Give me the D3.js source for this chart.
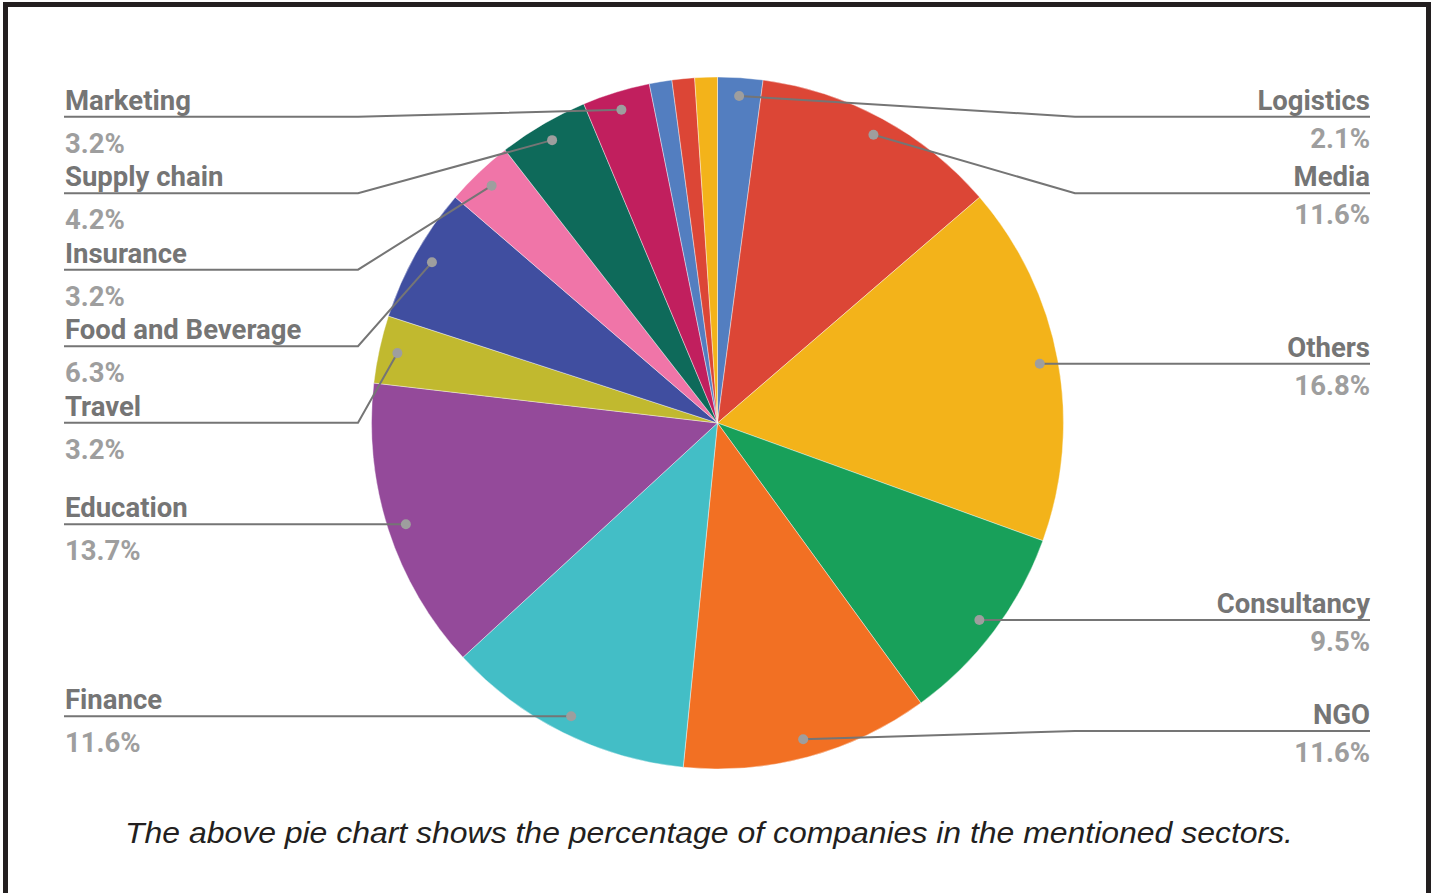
<!DOCTYPE html>
<html>
<head>
<meta charset="utf-8">
<script src="https://cdn.jsdelivr.net/npm/d3@7"></script>
<style>
  html, body { margin: 0; padding: 0; background: #fff; }
  svg { display: block; }
</style>
</head>
<body>
<svg id="chart" width="1431" height="893"></svg>
<script>
// sectors, clockwise from 12 o'clock (counts of companies, 95 in total)
var SECTORS = ["Logistics","Media","Others","Consultancy","NGO","Finance","Education","Travel",
               "Food and Beverage","Insurance","Supply chain","Marketing","","",""];
var COUNTS  = [2,11,16,9,11,11,13,3,6,3,4,3,1,1,1];
var COLORS  = ["#537ec0","#dc4636","#f3b31a","#18a05a","#f27023","#43bec6","#944a9a","#c1b92f",
               "#404ea0","#f075a8","#0e6a5a","#c11f5e","#537ec0","#dc4636","#f3b31a"];
var CAPTION = "The above pie chart shows the percentage of companies in the mentioned sectors.";

var W = 1431, H = 893;
var CX = 717.5, CY = 423, R = 346;
var DOT_R = R*0.947;
var LABEL_TOP = 116.7, LABEL_BOTTOM = 731, LABEL_GAP = 76.5;

var svg = d3.select("#chart");

// frame (no bottom edge, it is cut off)
svg.append("path")
  .attr("d","M5.5,"+H+" V4.5 H1428.5 V"+H)
  .attr("fill","none").attr("stroke","#231f20").attr("stroke-width",5);

var total = d3.sum(COUNTS);
var data = SECTORS.map(function(s,i){ return {name:s, value:COUNTS[i], color:COLORS[i]}; });

var pie = d3.pie().sort(null).value(function(d){ return d.value; });
var arc = d3.arc().innerRadius(0).outerRadius(R);
var arcs = pie(data);

var gPie = svg.append("g").attr("transform","translate("+CX+","+CY+")");
gPie.selectAll("path").data(arcs).enter().append("path")
  .attr("d",arc)
  .attr("fill",function(d){ return d.data.color; })
  .attr("stroke","#fff").attr("stroke-width",0.4);

// ---------------- labels ----------------
var labels = arcs.filter(function(d){ return d.data.name; }).map(function(d){
  var a = (d.startAngle+d.endAngle)/2;
  return {
    name: d.data.name,
    pct: d3.format(".1f")(d.data.value/total*100)+"%",
    px: CX+Math.sin(a)*DOT_R,
    py: CY-Math.cos(a)*DOT_R,
    right: Math.sin(a) > 0
  };
});

function layoutSide(list){
  list.sort(function(a,b){ return a.py-b.py; });
  var prev = -Infinity;
  list.forEach(function(l){
    l.ly = Math.max(l.py, LABEL_TOP, prev+LABEL_GAP);
    prev = l.ly;
  });
  // push back up from the bottom limit
  var next = Infinity;
  for (var i=list.length-1;i>=0;i--){
    list[i].ly = Math.min(list[i].ly, LABEL_BOTTOM, next-LABEL_GAP);
    next = list[i].ly;
  }
}
var leftL = labels.filter(function(l){ return !l.right; });
var rightL = labels.filter(function(l){ return l.right; });
layoutSide(leftL); layoutSide(rightL);

var gLab = svg.append("g");
function drawLabel(l){
  var bendX = l.right ? 1075 : 358;
  var endX  = l.right ? 1370 : 64;
  gLab.append("path")
    .attr("d","M"+l.px+","+l.py+" L"+bendX+","+l.ly+" H"+endX)
    .attr("fill","none").attr("stroke","#757575").attr("stroke-width",2);
  gLab.append("circle").attr("cx",l.px).attr("cy",l.py).attr("r",5).attr("fill","#9e9e9e");
  var tx = l.right ? 1370 : 65;
  var anchor = l.right ? "end" : "start";
  gLab.append("text").text(l.name)
    .attr("x",tx).attr("y",l.ly-7)
    .attr("text-anchor",anchor)
    .style("font-family","Roboto, sans-serif").style("font-weight","bold")
    .style("font-size","27.5px").style("fill","#757575");
  gLab.append("text").text(l.pct)
    .attr("x",tx).attr("y",l.ly+(l.right?31:36))
    .attr("text-anchor",anchor)
    .style("font-family","Roboto, sans-serif").style("font-weight","bold")
    .style("font-size","27.5px").style("fill","#9e9e9e");
}
leftL.forEach(drawLabel);
rightL.forEach(drawLabel);

// caption
svg.append("text").text(CAPTION)
  .attr("x",709).attr("y",843)
  .attr("text-anchor","middle")
  .attr("textLength",1168).attr("lengthAdjust","spacingAndGlyphs")
  .style("font-family","'Liberation Sans', Arial, sans-serif")
  .style("font-style","italic")
  .style("font-size","30px").style("fill","#231f20");
</script>
</body>
</html>
